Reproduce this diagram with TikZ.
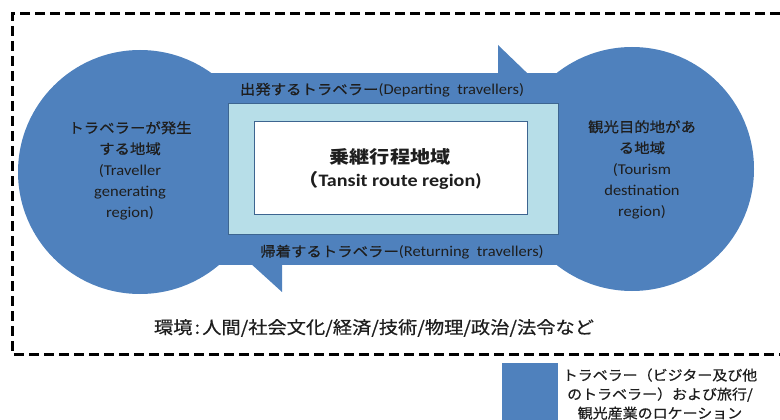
\documentclass[tikz,border=0pt]{standalone}
\usepackage{fontspec}
\setmainfont{Carlito}
\newfontfamily\jp[UprightFeatures={FakeBold=0.6}]{Noto Sans CJK JP}
\newcommand{\sxa}[1]{\scalebox{1.1}[1]{#1}}
\newcommand{\sxb}[1]{\scalebox{1.15}[1]{#1}}
\newcommand{\sxc}[1]{\scalebox{1.07}[1]{#1}}
\definecolor{blueA}{HTML}{4F81BD}
\definecolor{lightB}{HTML}{B7DEE8}
\definecolor{edgeB}{HTML}{3D6590}
\definecolor{ink}{HTML}{1E1E1E}
\tikzset{
  region/.style={circle, fill=blueA, minimum size=244pt, inner sep=0pt},
  band/.style={fill=blueA},
  rtext/.style={align=center, text=ink, inner sep=0pt, font=\fontsize{15}{21}\selectfont},
  lbl/.style={text=ink, inner sep=0pt, font=\fontsize{15}{16}\selectfont},
  transitbox/.style={draw=edgeB, line width=0.8pt, fill=lightB, minimum width=330pt, minimum height=131pt, inner sep=0pt},
  whitebox/.style={draw=edgeB, line width=0.8pt, fill=white, minimum width=273pt, minimum height=93pt, inner sep=0pt},
  frame/.style={line width=3pt, dash pattern=on 10pt off 5pt},
}
\begin{document}
\begin{tikzpicture}[x=1pt,y=-1pt]
\useasboundingbox (0,0) rectangle (780,420);
% blue regions and travel bands
\node[region] (gen) at (140,172) {};
\node[region] (dest) at (632,169) {};
\fill[band] (200,73) rectangle (600,265);
\fill[band] (498,73) -- (498,45) -- (552,97) -- (498,97) -- cycle;
\fill[band] (282,265) -- (282,292) -- (228,243) -- (282,243) -- cycle;
% transit region
\node[transitbox] (transit) at (393,168.5) {};
\node[whitebox] (route) at (390.5,167.5) {};
\node[align=center, text=ink, inner sep=0pt, font=\fontsize{17.5}{23}\selectfont\bfseries] (routetext) at (390,168.5)
  {\sxb{\jp 乗継行程地域}\\\sxb{{\jp （}Tansit route region)}};
% band labels
\node[lbl] (dep) at (382,90) {\sxa{{\fontsize{14}{16}\selectfont\jp 出発するトラベラー}(Departing\ \ travellers)}};
\node[lbl] (ret) at (402,252) {\sxa{{\fontsize{14}{16}\selectfont\jp 帰着するトラベラー}(Returning\ \ travellers)}};
% circle texts
\node[rtext] (gentext) at (130,170.5) {\sxa{\fontsize{14}{21}\selectfont\jp トラベラーが発生}\\\sxa{\fontsize{14}{21}\selectfont\jp する地域}\\\sxa{(Traveller}\\\sxa{generating}\\\sxa{region)}};
\node[rtext] (desttext) at (642,169.5) {\sxa{\fontsize{14}{21}\selectfont\jp 観光目的地があ}\\\sxa{\fontsize{14}{21}\selectfont\jp る地域}\\\sxa{(Tourism}\\\sxa{destination}\\\sxa{region)}};
% environment
\node[text=ink, inner sep=0pt, font=\fontsize{17.5}{20}\selectfont] (env) at (374,328)
  {\sxa{\jp 環境\kern2pt:\kern2pt 人間/社会文化/経済/技術/物理/政治/法令など}};
% frame
\draw[frame] (780,14) -- (12,14) -- (12,354) -- (780,354);
% legend
\fill[blueA] (502,363) rectangle (558,420);
\coordinate (legsq) at (530,391);
\node[align=center, text=ink, inner sep=0pt, font=\fontsize{14}{19}\selectfont] (legtext) at (660,394)
  {\sxc{\jp トラベラー（ビジター及び他}\\\sxc{\jp のトラベラー）および旅行/}\\\sxc{\jp 観光産業のロケーション}};
\end{tikzpicture}
\end{document}
